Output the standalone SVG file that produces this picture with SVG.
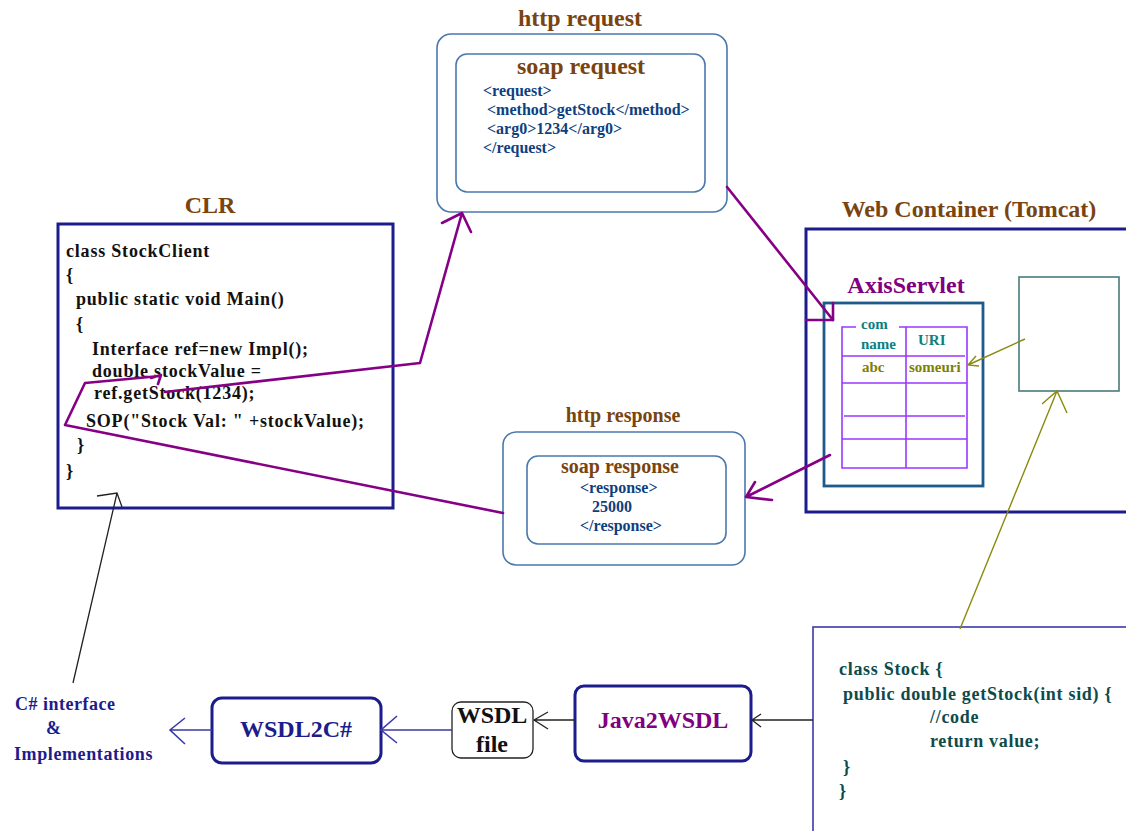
<svg xmlns="http://www.w3.org/2000/svg" width="1126" height="831" viewBox="0 0 1126 831">
  <defs>
    <style>
      text { font-family: "Liberation Serif", "Times New Roman", serif; font-weight: bold; }
      .title { font-size: 24px; fill: #7a4410; }
      .title20 { font-size: 20px; fill: #7a4410; }
      .xml { font-size: 16px; fill: #0f3f80; }
      .code { font-size: 18px; fill: #111; letter-spacing: 0.8px; }
      .jcode { font-size: 18px; fill: #0e4a4a; letter-spacing: 0.7px; }
      .msgbox { fill: none; stroke: #4a78ad; stroke-width: 1.6; }
      .navy { fill: none; stroke: #1c1c8c; stroke-width: 3; }
      .tbl { fill: none; stroke: #9a38ff; stroke-width: 1.6; }
      .teal { font-size: 15px; fill: #0a8080; }
      .olive { font-size: 15px; fill: #7f7f00; }
      .purple { fill: none; stroke: #860086; stroke-width: 2.6; stroke-linejoin: round; stroke-linecap: round; }
      .oliveln { fill: none; stroke: #8a8a10; stroke-width: 1.4; }
      .blk { fill: none; stroke: #222; stroke-width: 1.3; }
      .blue { fill: none; stroke: #3a3aa8; stroke-width: 1.6; }
    </style>
  </defs>

  <rect width="1126" height="831" fill="#ffffff"/>

  <!-- http request envelope -->
  <g id="http-request">
    <text class="title" x="580" y="26" text-anchor="middle">http request</text>
    <rect class="msgbox" x="437" y="34" width="290" height="178" rx="14"/>
    <rect class="msgbox" x="456" y="54" width="249" height="138" rx="11"/>
    <text class="title" x="581" y="74" text-anchor="middle">soap request</text>
    <text class="xml" x="483" y="96">&lt;request&gt;</text>
    <text class="xml" x="487" y="115">&lt;method&gt;getStock&lt;/method&gt;</text>
    <text class="xml" x="487" y="134">&lt;arg0&gt;1234&lt;/arg0&gt;</text>
    <text class="xml" x="483" y="153">&lt;/request&gt;</text>
  </g>

  <!-- CLR client code -->
  <g id="clr">
    <text class="title" x="210" y="213" text-anchor="middle">CLR</text>
    <rect class="navy" x="58" y="224" width="335" height="284"/>
    <text class="code" x="66" y="257">class StockClient</text>
    <text class="code" x="66" y="281">{</text>
    <text class="code" x="76" y="305">public static void Main()</text>
    <text class="code" x="76" y="330">{</text>
    <text class="code" x="92" y="355">Interface ref=new Impl();</text>
    <text class="code" x="92" y="377">double stockValue =</text>
    <text class="code" x="94" y="399">ref.getStock(1234);</text>
    <text class="code" x="86" y="427">SOP("Stock Val: " +stockValue);</text>
    <text class="code" x="77" y="451">}</text>
    <text class="code" x="66" y="477">}</text>
  </g>

  <!-- http response envelope -->
  <g id="http-response">
    <text class="title20" x="623" y="422" text-anchor="middle">http response</text>
    <rect class="msgbox" x="503" y="432" width="242" height="133" rx="13"/>
    <rect class="msgbox" x="527" y="456" width="199" height="88" rx="11"/>
    <text class="title20" x="620" y="473" text-anchor="middle">soap response</text>
    <text class="xml" x="580" y="493">&lt;response&gt;</text>
    <text class="xml" x="592" y="512">25000</text>
    <text class="xml" x="580" y="531">&lt;/response&gt;</text>
  </g>

  <!-- Tomcat web container -->
  <g id="web-container">
    <text class="title" x="969" y="217" text-anchor="middle">Web Container (Tomcat)</text>
    <rect class="navy" x="806" y="229" width="324" height="283" stroke-width="2.6"/>
  </g>

  <!-- AxisServlet with its mapping table -->
  <g id="axis-servlet">
    <text x="906" y="293" text-anchor="middle" font-size="24" fill="#800080">AxisServlet</text>
    <rect x="824" y="303" width="159" height="183" fill="none" stroke="#1f5a8c" stroke-width="2.8"/>
    <path class="tbl" d="M856 327 H842 V468 H967 V327 H899 M906 327 V468 M842 356 H965 M842 383 H967 M844 416 H965 M842 439 H967"/>
    <text class="teal" x="861" y="329">com</text>
    <text class="teal" x="861" y="349">name</text>
    <text class="teal" x="918" y="345">URI</text>
    <text class="olive" x="862" y="372">abc</text>
    <text class="olive" x="909" y="372">someuri</text>
  </g>

  <!-- service class loaded in the container -->
  <g id="service-class">
    <rect x="1019" y="277" width="100" height="114" fill="none" stroke="#4a7a7a" stroke-width="1.6"/>
  </g>

  <!-- Java service source -->
  <g id="stock-class">
    <rect x="813" y="627" width="330" height="220" fill="none" stroke="#3a3aa8" stroke-width="1.6"/>
    <text class="jcode" x="839" y="675">class Stock {</text>
    <text class="jcode" x="843" y="700">public double getStock(int sid) {</text>
    <text class="jcode" x="930" y="723">//code</text>
    <text class="jcode" x="930" y="747">return value;</text>
    <text class="jcode" x="843" y="773">}</text>
    <text class="jcode" x="839" y="797">}</text>
  </g>

  <!-- tool chain -->
  <g id="java2wsdl">
    <rect class="navy" x="575" y="686" width="176" height="75" rx="9"/>
    <text x="663" y="728" text-anchor="middle" font-size="24" fill="#800080">Java2WSDL</text>
  </g>

  <g id="wsdl-file">
    <rect x="452" y="702" width="81" height="56" rx="9" fill="none" stroke="#222" stroke-width="1.3"/>
    <text x="492" y="723" text-anchor="middle" font-size="24" fill="#111">WSDL</text>
    <text x="492" y="752" text-anchor="middle" font-size="24" fill="#111">file</text>
  </g>

  <g id="wsdl2cs">
    <rect class="navy" x="212" y="698" width="169" height="65" rx="10"/>
    <text x="296" y="737" text-anchor="middle" font-size="24" fill="#1c1c8c">WSDL2C#</text>
  </g>

  <g id="cs-output">
    <text x="15" y="710" font-size="18" fill="#1c1c8c" letter-spacing="0.5">C# interface</text>
    <text x="46" y="734" font-size="18" fill="#1c1c8c">&amp;</text>
    <text x="14" y="760" font-size="18" fill="#1c1c8c" letter-spacing="0.6">Implementations</text>
  </g>

  <!-- connectors -->
  <g id="connectors">
    <!-- client call goes out as the http request -->
    <path class="purple" d="M165 392 L420 363 L462 213 M442 223 L462 213 L471 232"/>
    <!-- request delivered to the AxisServlet -->
    <path class="purple" d="M727 187 L833 320" stroke-width="1.9"/>
    <path class="purple" d="M833 303 V320 H806"/>
    <!-- servlet answers with the http response -->
    <path class="purple" d="M830 455 L746 497 M755 482 L746 497 L772 500"/>
    <!-- response returned to stockValue -->
    <path class="purple" d="M503 513 L65 425 L85 383 L160 376 M151 378 L161 375 L158 384"/>
    <!-- class lookup through the URI mapping -->
    <path class="oliveln" d="M1025 339 L968 365 M976 356 L968 365 L979 366"/>
    <!-- deployment of the Stock class -->
    <path class="oliveln" d="M960 629 L1057 391 M1042 404 L1057 391 L1067 413"/>
    <!-- generated C# code used by the client -->
    <path class="blk" d="M73 683 L117 493 M97 496 L117 493 L122 507"/>
    <!-- tool chain arrows -->
    <path class="blk" d="M813 720 L752 720 M761 714 L752 720 L761 727" stroke="#444"/>
    <path class="blk" d="M575 720 L534 720 M548 712 L534 720 L548 729" stroke="#444"/>
    <path class="blue" d="M452 730 L381 730 M397 716 L381 730 L397 743"/>
    <path class="blue" d="M212 730 L170 730 M185 718 L170 730 L185 744"/>
  </g>
</svg>
